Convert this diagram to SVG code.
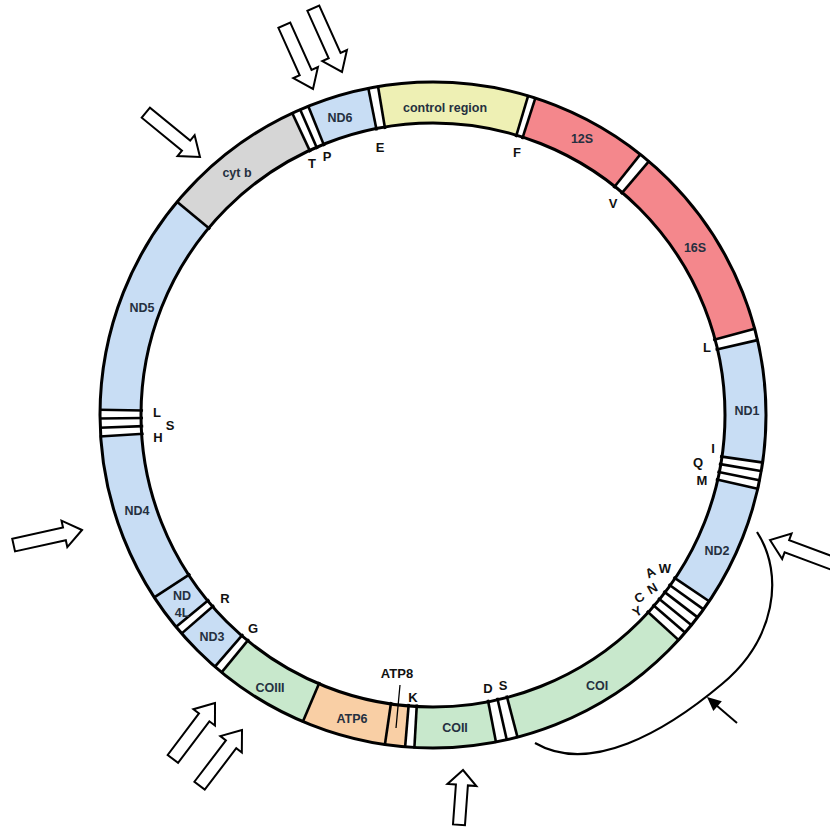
<svg xmlns="http://www.w3.org/2000/svg" xmlns:xlink="http://www.w3.org/1999/xlink" width="830" height="828" viewBox="0 0 830 828">
<style>
.seg{fill:none;stroke-width:41}
.nd{stroke:#c8ddf4}.cr{stroke:#eef0b4}.rr{stroke:#f4878c}.cy{stroke:#d6d6d6}.co{stroke:#c8e8cc}.at{stroke:#f9cfa5}.wt{stroke:#ffffff}
.tk{stroke:#000;stroke-width:2.6}
.lb{font-family:"Liberation Sans",Arial,sans-serif;font-weight:bold;font-size:12.5px;fill:#253040;text-anchor:middle}
.tr{font-family:"Liberation Sans",Arial,sans-serif;font-weight:bold;font-size:13px;fill:#111;text-anchor:middle}
.ar{fill:#fff;stroke:#000;stroke-width:2;stroke-linejoin:miter}
</style>
<defs>
<line id="tick" class="tk" x1="433" y1="125" x2="433" y2="81"/>
<path id="arr" d="M0,0 L-18,-13.5 L-18,-6.5 L-70,-6.5 L-70,6.5 L-18,6.5 L-18,13.5 Z"/>
<path id="arrS" d="M0,0 L-15,-14.5 L-15,-6 L-55,-6 L-55,6 L-15,6 L-15,14.5 Z"/>
</defs>
<rect width="830" height="828" fill="#fff"/>
<g id="ring" transform="rotate(-90 433 415)">
<circle class="seg wt" cx="433" cy="415" r="312.5"/>
<g id="ND6"><circle class="seg nd" cx="433" cy="415" r="312.5" pathLength="360" stroke-dasharray="10.8 349.2" stroke-dashoffset="-338"/></g>
<g id="control_region"><circle class="seg cr" cx="433" cy="415" r="312.5" pathLength="360" stroke-dasharray="26.1 333.9" stroke-dashoffset="-350.5"/></g>
<g id="S12"><circle class="seg rr" cx="433" cy="415" r="312.5" pathLength="360" stroke-dasharray="20.6 339.4" stroke-dashoffset="-17.9"/></g>
<g id="S16"><circle class="seg rr" cx="433" cy="415" r="312.5" pathLength="360" stroke-dasharray="34.6 325.4" stroke-dashoffset="-40.4"/></g>
<g id="ND1"><circle class="seg nd" cx="433" cy="415" r="312.5" pathLength="360" stroke-dasharray="21.2 338.8" stroke-dashoffset="-77"/></g>
<g id="ND2"><circle class="seg nd" cx="433" cy="415" r="312.5" pathLength="360" stroke-dasharray="21.2 338.8" stroke-dashoffset="-102.8"/></g>
<g id="COI"><circle class="seg co" cx="433" cy="415" r="312.5" pathLength="360" stroke-dasharray="32.8 327.2" stroke-dashoffset="-132.5"/></g>
<g id="COII"><circle class="seg co" cx="433" cy="415" r="312.5" pathLength="360" stroke-dasharray="14.1 345.9" stroke-dashoffset="-169.1"/></g>
<g id="ATP8"><circle class="seg at" cx="433" cy="415" r="312.5" pathLength="360" stroke-dasharray="3.5 356.5" stroke-dashoffset="-184.8"/></g>
<g id="ATP6"><circle class="seg at" cx="433" cy="415" r="312.5" pathLength="360" stroke-dasharray="14.7 345.3" stroke-dashoffset="-188.3"/></g>
<g id="COIII"><circle class="seg co" cx="433" cy="415" r="312.5" pathLength="360" stroke-dasharray="16.4 343.6" stroke-dashoffset="-203"/></g>
<g id="ND3"><circle class="seg nd" cx="433" cy="415" r="312.5" pathLength="360" stroke-dasharray="8.1 351.9" stroke-dashoffset="-220.9"/></g>
<g id="ND4L"><circle class="seg nd" cx="433" cy="415" r="312.5" pathLength="360" stroke-dasharray="6.3 353.7" stroke-dashoffset="-230.5"/></g>
<g id="ND4"><circle class="seg nd" cx="433" cy="415" r="312.5" pathLength="360" stroke-dasharray="29.5 330.5" stroke-dashoffset="-236.8"/></g>
<g id="ND5"><circle class="seg nd" cx="433" cy="415" r="312.5" pathLength="360" stroke-dasharray="38.9 321.1" stroke-dashoffset="-270.9"/></g>
<g id="cytb"><circle class="seg cy" cx="433" cy="415" r="312.5" pathLength="360" stroke-dasharray="25.2 334.8" stroke-dashoffset="-309.8"/></g>
</g>
<g id="boundaries">
<use href="#tick" transform="rotate(348.8 433 415)"/><use href="#tick" transform="rotate(350.5 433 415)"/>
<use href="#tick" transform="rotate(16.6 433 415)"/><use href="#tick" transform="rotate(17.9 433 415)"/>
<use href="#tick" transform="rotate(38.5 433 415)"/><use href="#tick" transform="rotate(40.4 433 415)"/>
<use href="#tick" transform="rotate(75 433 415)"/><use href="#tick" transform="rotate(77 433 415)"/>
<use href="#tick" transform="rotate(98.2 433 415)"/><use href="#tick" transform="rotate(99.7 433 415)"/><use href="#tick" transform="rotate(101.3 433 415)"/><use href="#tick" transform="rotate(102.8 433 415)"/>
<use href="#tick" transform="rotate(124 433 415)"/><use href="#tick" transform="rotate(125.7 433 415)"/><use href="#tick" transform="rotate(127.4 433 415)"/><use href="#tick" transform="rotate(129.1 433 415)"/><use href="#tick" transform="rotate(130.8 433 415)"/><use href="#tick" transform="rotate(132.5 433 415)"/>
<use href="#tick" transform="rotate(165.3 433 415)"/><use href="#tick" transform="rotate(167.2 433 415)"/><use href="#tick" transform="rotate(169.1 433 415)"/>
<use href="#tick" transform="rotate(183.2 433 415)"/><use href="#tick" transform="rotate(184.8 433 415)"/>
<use href="#tick" transform="rotate(188.3 433 415)"/>
<use href="#tick" transform="rotate(203 433 415)"/>
<use href="#tick" transform="rotate(219.4 433 415)"/><use href="#tick" transform="rotate(220.9 433 415)"/>
<use href="#tick" transform="rotate(229 433 415)"/><use href="#tick" transform="rotate(230.5 433 415)"/>
<use href="#tick" transform="rotate(236.8 433 415)"/>
<use href="#tick" transform="rotate(266.3 433 415)"/><use href="#tick" transform="rotate(267.8 433 415)"/><use href="#tick" transform="rotate(269.4 433 415)"/><use href="#tick" transform="rotate(270.9 433 415)"/>
<use href="#tick" transform="rotate(309.8 433 415)"/>
<use href="#tick" transform="rotate(335 433 415)"/><use href="#tick" transform="rotate(336.5 433 415)"/><use href="#tick" transform="rotate(338 433 415)"/>
<circle cx="433" cy="415" r="333" fill="none" stroke="#000" stroke-width="3"/>
<circle cx="433" cy="415" r="292" fill="none" stroke="#000" stroke-width="3"/>
</g>
<g id="gene_labels">
<text class="lb" x="340" y="122">ND6</text>
<text class="lb" x="445" y="112">control region</text>
<text class="lb" x="582" y="143">12S</text>
<text class="lb" x="695" y="252">16S</text>
<text class="lb" x="747" y="415">ND1</text>
<text class="lb" x="717" y="555">ND2</text>
<text class="lb" x="597" y="690">COI</text>
<text class="lb" x="455" y="732">COII</text>
<text class="lb" x="352" y="723">ATP6</text>
<text class="lb" x="270" y="692">COIII</text>
<text class="lb" x="212" y="641">ND3</text>
<text class="lb" x="182" y="600">ND</text>
<text class="lb" x="182" y="617">4L</text>
<text class="lb" x="137" y="515">ND4</text>
<text class="lb" x="142" y="312">ND5</text>
<text class="lb" x="237" y="177">cyt b</text>
</g>
<g id="trna_labels">
<text class="tr" x="312" y="168">T</text>
<text class="tr" x="327" y="161">P</text>
<text class="tr" x="380" y="152">E</text>
<text class="tr" x="517" y="157">F</text>
<text class="tr" x="613" y="208">V</text>
<text class="tr" x="707" y="352">L</text>
<text class="tr" x="713" y="453">I</text>
<text class="tr" x="698" y="467">Q</text>
<text class="tr" x="702" y="485">M</text>
<text class="tr" x="665" y="573">W</text>
<text class="tr" transform="rotate(-30 650 572)" x="650" y="577">A</text>
<text class="tr" transform="rotate(-30 652 588)" x="652" y="593">N</text>
<text class="tr" transform="rotate(-30 639 597)" x="639" y="602">C</text>
<text class="tr" transform="rotate(-30 637 611)" x="637" y="616">Y</text>
<text class="tr" x="488" y="693">D</text>
<text class="tr" x="503" y="690">S</text>
<text class="tr" x="413" y="702">K</text>
<text class="tr" x="253" y="633">G</text>
<text class="tr" x="225" y="603">R</text>
<text class="tr" x="157" y="417">L</text>
<text class="tr" x="170" y="430">S</text>
<text class="tr" x="158" y="442">H</text>
<g id="ATP8_label">
<text class="tr" x="397" y="678">ATP8</text>
<line x1="400" y1="685" x2="396" y2="728" stroke="#000" stroke-width="1.3"/>
</g>
</g>
<g id="connectors">
<use href="#arr" class="ar" transform="translate(313 89) rotate(65.8)"/>
<use href="#arr" class="ar" transform="translate(342 72) rotate(65.8)"/>
<use href="#arr" class="ar" transform="translate(200 157) rotate(39.3)"/>
<use href="#arr" class="ar" transform="translate(82 530) rotate(-12.4)"/>
<use href="#arr" class="ar" transform="translate(215 703) rotate(-53)"/>
<use href="#arr" class="ar" transform="translate(242 730) rotate(-52.7)"/>
<use href="#arrS" class="ar" transform="translate(463 770) rotate(-85.8)"/>
<use href="#arr" class="ar" transform="translate(770 540) rotate(200.4)"/>
<path d="M757,532 C785,575 775,640 722,684 C665,732 590,775 535,743" fill="none" stroke="#000" stroke-width="2.2"/>
<line x1="737" y1="723" x2="716" y2="705" stroke="#000" stroke-width="2"/>
<path d="M0,0 L-14,-6.5 L-14,6.5 Z" fill="#000" transform="translate(707 697) rotate(220.9)"/>
</g>
</svg>
